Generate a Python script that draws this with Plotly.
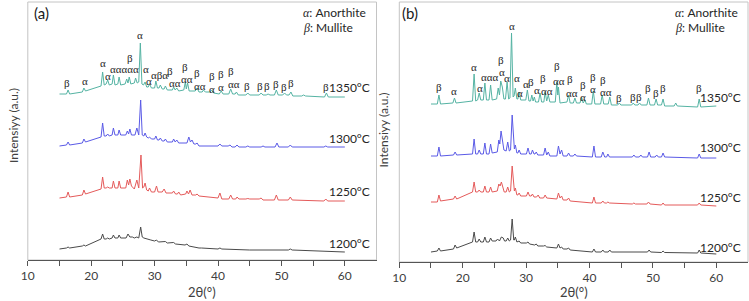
import plotly.graph_objects as go

# ---------------- data (2theta, intensity a.u. offset-stacked) ----------------
temps = ["1200°C", "1250°C", "1300°C", "1350°C"]
x_tick_vals = [10, 15, 20, 25, 30, 35, 40, 45, 50, 55, 60]
x_tick_text = ["10", "", "20", "", "30", "", "40", "", "50", "", "60"]

a1350 = [(15.0,166),(16.1,166),(16.35,170),(16.6,166),(18.6,168),(18.85,172),(19.1,169),(21.55,174),(21.8,188),(22.05,175),(22.35,176),(22.6,180),(22.85,175),(23.3,176),(23.5,185),(23.75,175),(24.2,176),(24.4,183),(24.65,175),(25.35,176),(25.6,181),(25.8,177),(26.0,183),(26.25,176),(26.8,177),(27.0,182),(27.25,177),(27.5,178),(27.75,217),(28.0,176),(28.25,175),(28.5,178),(28.75,173),(29.0,173),(29.2,176),(29.5,172),(30.0,172),(30.2,179),(30.45,172),(30.7,172),(30.9,175),(31.2,171),(31.5,171),(31.7,174),(32.0,170),(32.8,170),(33.0,173),(33.25,170),(33.5,172),(33.8,169),(34.6,170),(34.85,178),(35.0,171),(35.2,177),(35.45,169),(36.4,169),(36.7,172),(37.0,168),(37.5,168),(37.7,170),(38.0,168),(38.7,168),(39.0,170),(39.3,167),(40.2,166),(40.5,169),(40.8,166),(41.7,166),(42.0,171),(42.3,166),(42.7,166),(42.9,168),(43.2,165),(44.4,165),(44.7,167),(45.0,165),(46.5,165),(46.8,167),(47.1,165),(47.6,165),(47.9,166),(48.2,165),(48.9,165),(49.2,170),(49.5,165),(50.2,165),(50.5,167),(50.8,165),(51.2,165),(51.5,168),(51.8,164),(53.2,164),(53.5,165),(53.8,164),(56.8,163),(57.1,167),(57.4,163),(60.0,163)]
a1300 = [(15.0,114),(16.1,115),(16.35,118),(16.6,115),(18.6,117),(18.85,121),(19.1,118),(21.55,123),(21.8,137),(22.05,124),(22.35,124),(22.6,126),(22.85,124),(23.3,125),(23.5,132),(23.75,125),(24.2,125),(24.4,130),(24.65,125),(25.45,125),(25.7,129),(25.9,126),(26.1,131),(26.35,125),(26.9,125),(27.2,132),(27.5,125),(27.8,160),(28.05,125),(28.3,124),(28.5,127),(28.75,123),(29.0,122),(29.2,123),(29.5,121),(30.0,121),(30.2,124),(30.45,120),(30.7,120),(30.9,122),(31.2,119),(31.5,119),(31.7,121),(32.0,118),(32.8,118),(33.0,121),(33.25,118),(33.5,120),(33.8,117),(35.1,117),(35.4,123),(35.65,118),(35.9,120),(36.2,116),(36.5,116),(36.7,117),(37.0,114),(40.0,114),(40.3,116),(40.6,114),(41.6,114),(41.9,115),(42.2,113),(42.7,113),(43.0,115),(43.3,113),(44.4,113),(44.7,114),(45.0,113),(46.8,113),(47.1,114),(47.4,113),(49.0,113),(49.3,117),(49.6,113),(51.1,113),(51.4,115),(51.7,113),(56.7,113),(57.0,114),(57.3,113),(60.0,113)]
a1250 = [(15.0,62),(16.1,63),(16.35,68),(16.6,63),(18.6,65),(18.85,70),(19.1,66),(21.55,71),(21.8,83),(22.05,72),(22.35,72),(22.6,73),(22.85,72),(23.3,72),(23.5,79),(23.75,72),(24.2,72),(24.4,79),(24.65,72),(25.45,72),(25.7,80),(25.9,75),(26.1,81),(26.35,74),(26.8,71),(27.2,80),(27.5,72),(27.85,105),(28.1,72),(28.3,73),(28.5,77),(28.75,70),(29.0,69),(29.2,72),(29.5,68),(30.0,68),(30.3,74),(30.55,68),(31.2,68),(31.5,71),(31.8,67),(32.8,67),(33.0,69),(33.3,66),(33.6,66),(33.8,68),(34.1,65),(34.9,66),(35.1,69),(35.35,66),(35.6,70),(35.9,65),(36.5,65),(36.7,66),(37.0,64),(40.0,62),(40.3,67),(40.6,61),(41.7,61),(42.0,65),(42.3,61),(42.8,61),(43.0,63),(43.3,61),(44.4,61),(44.7,61.5),(45.0,61),(46.5,61),(46.8,62),(47.1,60),(48.9,60),(49.2,65),(49.5,60),(51.1,60),(51.4,63),(51.7,60),(56.7,59),(57.0,61),(57.3,59),(60.0,59)]
a1200 = [(15.0,11),(16.1,12),(16.35,13),(16.6,12),(18.6,14),(18.85,15),(19.1,14),(21.55,21),(21.8,26),(22.05,21),(22.35,21),(22.6,22),(22.85,21),(23.3,22),(23.5,25),(23.75,22),(24.2,22),(24.4,25),(24.65,22),(25.5,22),(25.8,26),(26.1,23),(26.5,23),(26.8,22),(27.2,23),(27.5,22),(27.8,33),(28.05,23),(28.3,22),(28.7,21),(29.4,20),(30.0,19),(30.3,20),(30.6,18),(31.4,18),(31.7,18.5),(32.0,17),(32.7,17),(33.0,17.5),(33.3,16),(34.8,15),(35.1,16),(35.4,14),(37.0,12),(37.4,12),(40.0,11),(40.3,12),(40.6,11),(45.0,10),(51.1,10),(51.4,11),(51.7,10),(60.0,8)]

b1350 = [(15.0,158),(16.0,158),(16.25,167),(16.5,158),(18.45,159),(18.7,164),(18.95,159),(21.55,161),(21.8,188),(22.05,161),(22.35,162),(22.6,169),(22.85,162),(23.25,162),(23.5,179),(23.75,162),(24.15,162),(24.4,177),(24.65,162),(25.35,163),(25.6,174),(25.8,167),(26.0,181),(26.25,175),(26.5,163),(26.75,163),(27.0,180),(27.25,163),(27.45,164),(27.7,229),(27.95,165),(28.1,166),(28.3,174),(28.55,163),(28.7,163),(28.9,170),(29.15,162),(29.95,162),(30.2,172),(30.45,161),(30.7,161),(30.9,167),(31.1,161),(31.3,165),(31.5,160),(31.95,160),(32.2,169),(32.45,160),(32.8,160),(33.0,170),(33.25,161),(33.5,167),(33.75,160),(34.6,160),(34.85,180),(35.0,167),(35.1,175),(35.35,159),(36.45,160),(36.7,167),(36.95,159),(37.45,159),(37.7,164),(37.95,159),(38.5,159),(38.75,165),(39.0,159),(39.3,162),(39.5,158),(40.35,158),(40.6,171),(40.85,158),(41.75,158),(42.0,167),(42.25,158),(42.95,158),(43.2,165),(43.45,157),(44.45,157),(44.7,159),(44.95,157),(46.65,157),(46.9,159),(47.15,157),(47.65,157),(47.9,159),(48.15,157),(49.05,157),(49.3,164),(49.55,157),(50.25,157),(50.5,163),(50.75,157),(51.35,157),(51.6,163),(51.85,156),(53.35,156),(53.6,159),(53.85,156),(57.05,155),(57.3,163),(57.55,155),(60.0,156)]
b1300 = [(15.0,106),(16.0,106),(16.25,115),(16.5,106),(18.55,107),(18.8,110),(19.05,107),(21.55,108),(21.8,123),(22.05,108),(22.35,108),(22.6,112),(22.85,108),(23.25,108),(23.5,119),(23.75,108),(24.15,108),(24.4,118),(24.65,109),(25.45,110),(25.7,122),(25.85,118),(26.05,131),(26.25,120),(26.5,112),(26.85,111),(27.1,120),(27.35,111),(27.55,112),(27.8,147),(28.05,113),(28.15,113),(28.3,117),(28.55,109),(28.7,109),(28.9,112),(29.15,108),(30.05,108),(30.3,114),(30.55,108),(30.8,108),(31.0,112),(31.25,108),(31.4,108),(31.6,110),(31.85,107),(32.75,107),(33.0,114),(33.25,107),(33.5,110),(33.75,106),(34.85,106),(35.1,116),(35.35,108),(35.6,112),(35.85,106),(36.45,106),(36.7,109),(36.95,106),(37.45,106),(37.7,108),(37.95,106),(40.45,105),(40.7,116),(40.95,105),(41.85,105),(42.1,110),(42.4,105),(42.7,105),(42.9,108),(43.15,105),(46.75,105),(47.0,107),(47.25,105),(47.85,105),(48.1,107),(48.35,105),(49.15,105),(49.4,110),(49.65,105),(50.35,105),(50.6,107),(50.85,105),(51.35,105),(51.6,109),(51.85,105),(57.05,104),(57.3,108),(57.55,104),(60.0,104)]
b1250 = [(15.0,60),(16.0,60),(16.25,67),(16.5,61),(18.55,63),(18.8,66),(19.05,63),(21.55,70),(21.8,80),(22.05,70),(22.35,70),(22.6,72),(22.85,70),(23.25,70),(23.5,76),(23.75,70),(24.15,70),(24.4,75),(24.65,70),(25.45,71),(25.7,78),(25.9,76),(26.1,80),(26.35,74),(26.55,70),(26.85,70),(27.1,75),(27.35,70),(27.55,71),(27.8,96),(28.05,71),(28.15,71),(28.3,74),(28.55,67),(28.7,67),(28.9,69),(29.15,66),(30.05,66),(30.3,70),(30.55,66),(30.8,66),(31.0,68),(31.25,65),(31.65,65),(31.9,67),(32.15,64),(32.75,64),(33.0,67),(33.25,64),(34.85,63),(35.1,69),(35.35,64),(35.6,66),(35.85,62),(36.45,62),(36.7,64),(36.95,61),(40.45,59),(40.7,65),(40.95,59),(41.85,59),(42.1,61),(42.35,59),(42.7,59),(42.9,60),(43.15,59),(46.75,58),(47.0,59),(47.25,58),(49.05,58),(49.3,60),(49.55,58),(51.35,57),(51.6,59),(51.85,57),(57.05,57),(57.3,59),(57.55,57),(60.0,56)]
b1200 = [(15.0,10),(16.0,11),(16.25,14),(16.5,11),(18.55,13),(18.8,17),(19.05,14),(21.55,20),(21.8,30),(22.05,20),(22.35,20),(22.6,23),(22.85,20),(23.25,20),(23.5,25),(23.75,20),(24.15,20),(24.4,24),(24.65,21),(25.25,21),(25.5,23),(25.8,21),(26.1,25),(26.4,24),(26.6,21),(26.85,21),(27.1,24),(27.35,21),(27.55,22),(27.8,43),(28.05,22),(28.15,22),(28.3,25),(28.55,20),(28.9,21),(29.15,19),(30.05,19),(30.3,20),(30.55,18),(31.35,17),(31.6,18),(31.85,16),(32.75,16),(33.0,16.5),(33.25,15),(34.85,14),(35.1,18),(35.35,14),(35.6,15),(35.85,13),(36.45,13),(36.7,14),(36.95,12),(40.45,10),(40.7,13),(40.95,10),(41.85,10),(42.1,12),(42.35,10),(42.95,10),(43.2,12),(43.45,10),(49.15,10),(49.4,12),(49.65,10),(51.35,9.5),(51.6,11),(51.85,9.5),(57.05,9),(57.3,12),(57.55,9),(60.0,8)]

# peak labels: (2theta, height, phase symbols)
a_labels = [(16.25,177.5,"β"),(18.95,179,"α"),(21.83,196.7,"α"),(22.7,184.3,"α"),(25.3,191,"ααααα"),(26.1,202.5,"β"),(27.7,225,"α"),(28.6,190.7,"α"),(29.1,179,"α"),(30.75,185.5,"αβα"),(32.5,189,"β"),(33.2,177.5,"αα"),(34.85,193.5,"β"),(35.1,181,"αα"),(36.7,187,"β"),(37.1,174,"αα"),(39.0,184,"β"),(39.0,171.5,"α"),(40.5,186.5,"β"),(40.5,173.5,"α"),(42.1,189,"β"),(42.55,176,"αα"),(44.6,174,"β"),(46.55,174.5,"β"),(47.8,174.5,"β"),(49.2,176,"β"),(50.35,173,"β"),(51.55,176.7,"β"),(57.1,173.5,"β")]
b_labels = [(16.25,175.5,"β"),(18.55,171,"α"),(21.8,195.3,"α"),(22.7,174.3,"α"),(24.3,185.5,"ααα"),(26.15,189.7,"α"),(26.1,202,"β"),(27.0,184.3,"α"),(27.7,236,"α"),(28.6,184.3,"α"),(29.1,169.3,"α"),(30.0,177.7,"α"),(30.75,180.5,"β"),(31.7,172,"α"),(32.6,184,"β"),(33.25,171,"αα"),(34.85,196.5,"β"),(35.2,181,"αα"),(36.9,183,"β"),(37.2,168.7,"αα"),(39.0,177.5,"β"),(39.0,165,"α"),(40.6,185,"β"),(40.6,173.2,"α"),(42.2,182,"β"),(42.6,170.5,"αα"),(44.7,164.3,"β"),(46.8,165.3,"β"),(47.8,165.3,"β"),(49.3,174.3,"β"),(50.5,168.7,"β"),(51.6,173.7,"β"),(57.3,173.7,"β")]

# ---------------- figure ----------------
W, H = 749, 301
colors = {"1200°C": "#4a4a4a", "1250°C": "#e45a5a", "1300°C": "#5a5ae6", "1350°C": "#55b3a3"}
panel_a = {"1200°C": a1200, "1250°C": a1250, "1300°C": a1300, "1350°C": a1350}
panel_b = {"1200°C": b1200, "1250°C": b1250, "1300°C": b1300, "1350°C": b1350}

def px(v):
    return v / W

def py(v):
    return 1 - v / H

fig = go.Figure()
for t in temps:
    xs, ys = zip(*panel_a[t])
    fig.add_trace(go.Scatter(x=xs, y=ys, mode="lines", line=dict(color=colors[t], width=1),
                             xaxis="x", yaxis="y", showlegend=False, hoverinfo="skip"))
for t in temps:
    xs, ys = zip(*panel_b[t])
    fig.add_trace(go.Scatter(x=xs, y=ys, mode="lines", line=dict(color=colors[t], width=1),
                             xaxis="x2", yaxis="y2", showlegend=False, hoverinfo="skip"))

tick_font = dict(family="Lato", size=12, color="#404040")
xcommon = dict(range=[10, 65], tickmode="array", tickvals=x_tick_vals, ticktext=x_tick_text,
               ticks="outside", ticklen=5, tickcolor="#555555", showline=True, linecolor="#555555",
               linewidth=1, showgrid=False, zeroline=False, tickfont=tick_font, fixedrange=True)
ycommon = dict(showticklabels=False, ticks="", showline=False, showgrid=False, zeroline=False)

a_left, a_right = 21, 373
b_left, b_right = 396, 748
top = 2
a_bot, b_bot = 260, 262

fig.update_layout(
    width=W, height=H, margin=dict(l=0, r=0, t=0, b=0),
    paper_bgcolor="white", plot_bgcolor="white",
    xaxis=dict(domain=[px(a_left), px(a_right)], anchor="y", **xcommon),
    yaxis=dict(domain=[py(a_bot), py(top)], range=[0, a_bot - top], anchor="x", **ycommon),
    xaxis2=dict(domain=[px(b_left), px(b_right)], anchor="y2", **xcommon),
    yaxis2=dict(domain=[py(b_bot), py(top)], range=[0, b_bot - top], anchor="x2", **ycommon),
)

shapes = []
for (l, r, b) in [(a_left, a_right, a_bot), (b_left, b_right, b_bot)]:
    shapes.append(dict(type="rect", xref="paper", yref="paper", x0=px(l), x1=px(r), y0=py(b), y1=py(top),
                       line=dict(color="#c4c4c4", width=1), layer="below"))
fig.update_layout(shapes=shapes)

ann = []
sym_font = dict(family="Liberation Serif", size=11, color="#262626")
for (xv, yv, s) in a_labels:
    ann.append(dict(x=xv, y=yv, xref="x", yref="y", text=s, showarrow=False, font=sym_font,
                    xanchor="center", yanchor="middle", borderpad=0))
for (xv, yv, s) in b_labels:
    ann.append(dict(x=xv, y=yv, xref="x2", yref="y2", text=s, showarrow=False, font=sym_font,
                    xanchor="center", yanchor="middle", borderpad=0))

lab_font = dict(family="Lato", size=12, color="#262626")
temp_pos_a = {"1350°C": 87.5, "1300°C": 138, "1250°C": 191.5, "1200°C": 243.5}
temp_pos_b = {"1350°C": 97.5, "1300°C": 147, "1250°C": 197.5, "1200°C": 247.5}
for t in temps:
    ann.append(dict(x=px(368), y=py(temp_pos_a[t]), xref="paper", yref="paper", text=t, showarrow=False,
                    font=lab_font, xanchor="right", yanchor="middle"))
    ann.append(dict(x=px(743), y=py(temp_pos_b[t]), xref="paper", yref="paper", text=t, showarrow=False,
                    font=lab_font, xanchor="right", yanchor="middle"))

for (letter, lx, legx) in [("(a)", 25, 297), ("(b)", 397, 672)]:
    ann.append(dict(x=px(lx), y=py(13), xref="paper", yref="paper", text=letter, showarrow=False,
                    font=dict(family="Lato", size=15, color="#1a1a1a"), xanchor="left", yanchor="middle"))
    ann.append(dict(x=px(legx), y=py(12.5), xref="paper", yref="paper",
                    text="<span style='font-family:Liberation Serif'><i>α</i></span>: Anorthite",
                    showarrow=False, font=lab_font, xanchor="left", yanchor="middle"))
    ann.append(dict(x=px(legx), y=py(27), xref="paper", yref="paper",
                    text="<span style='font-family:Liberation Serif'><i>β</i></span>: Mullite",
                    showarrow=False, font=lab_font, xanchor="left", yanchor="middle"))

for (cx, ty, ycx, ycy) in [(197, 292, 7, 125), (572, 292, 381, 130)]:
    ann.append(dict(x=px(cx), y=py(ty), xref="paper", yref="paper", text="2θ(°)", showarrow=False,
                    font=dict(family="Lato", size=13, color="#404040"), xanchor="center", yanchor="middle"))
    ann.append(dict(x=px(ycx), y=py(ycy), xref="paper", yref="paper", text="Intensiyy (a.u.)",
                    showarrow=False, textangle=-90,
                    font=dict(family="Lato", size=12, color="#404040"), xanchor="center", yanchor="middle"))

fig.update_layout(annotations=ann)
fig.write_html("out.html", config={"displayModeBar": False},
               post_script="document.body.style.margin='0';document.body.style.padding='0';")
